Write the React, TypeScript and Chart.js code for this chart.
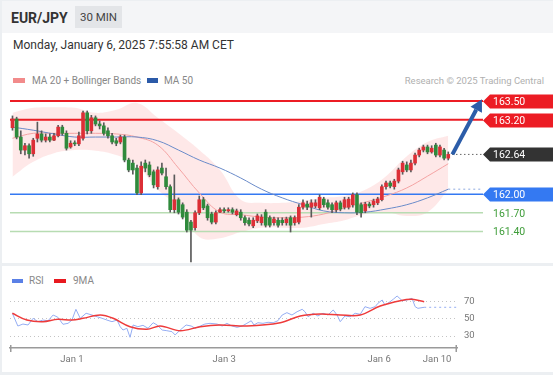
import React, { useEffect, useRef } from "react";
import { Chart, registerables } from "chart.js";
Chart.register(...registerables);

const FONT = "Roboto, 'Liberation Sans', Arial, sans-serif";

// ---------- price candles (one per bar index) ----------
const opens = [
  163.07, 163.21, 162.92, 162.71, 162.78, 162.65, 162.90, 162.97, 162.87, 162.92,
  162.87, 162.94, 163.08, 162.98, 162.76, 162.82, 162.81, 162.90, 163.31, 163.02,
  163.23, 163.13, 163.10, 163.02, 162.94, 162.86, 162.84, 162.92, 162.55, 162.50,
  162.42, 162.02, 162.50, 162.47, 162.36, 162.12, 162.42, 162.28, 162.12, 161.75,
  161.91, 161.83, 161.71, 161.55, 161.46, 161.70, 161.91, 161.81, 161.68, 161.55,
  161.71, 161.75, 161.73, 161.75, 161.67, 161.71, 161.62, 161.58, 161.49, 161.57,
  161.54, 161.71, 161.62, 161.54, 161.58, 161.58, 161.54, 161.62, 161.54, 161.55,
  161.79, 161.84, 161.79, 161.81, 161.78, 161.92, 161.86, 161.83, 161.75, 161.86,
  161.79, 161.79, 161.83, 161.99, 161.83, 161.73, 161.84, 161.83, 161.86, 161.91,
  162.12, 162.18, 162.12, 162.21, 162.36, 162.47, 162.39, 162.50, 162.63, 162.71,
  162.76, 162.68, 162.79, 162.63, 162.71, 162.58,
];
const closes = [
  163.21, 162.92, 162.71, 162.78, 162.65, 162.87, 162.97, 162.87, 162.92, 162.87,
  162.94, 163.08, 162.98, 162.74, 162.82, 162.81, 162.94, 163.31, 163.02, 163.23,
  163.13, 163.10, 162.98, 162.94, 162.84, 162.82, 162.92, 162.55, 162.39, 162.39,
  162.02, 162.45, 162.42, 162.31, 162.15, 162.39, 162.34, 162.12, 161.75, 161.91,
  161.71, 161.63, 161.42, 161.42, 161.70, 161.91, 161.78, 161.62, 161.55, 161.70,
  161.75, 161.73, 161.75, 161.71, 161.73, 161.62, 161.54, 161.52, 161.58, 161.65,
  161.63, 161.50, 161.50, 161.60, 161.50, 161.54, 161.60, 161.50, 161.62, 161.79,
  161.86, 161.79, 161.86, 161.86, 161.95, 161.83, 161.79, 161.75, 161.86, 161.76,
  161.91, 161.92, 161.99, 161.71, 161.70, 161.84, 161.81, 161.89, 161.92, 162.12,
  162.18, 162.13, 162.21, 162.39, 162.50, 162.39, 162.50, 162.63, 162.71, 162.76,
  162.68, 162.74, 162.63, 162.76, 162.58, 162.64,
];
const highs = [
  163.26, 163.24, 163.02, 162.82, 162.81, 162.90, 163.16, 163.02, 162.97, 162.97,
  162.98, 163.11, 163.11, 163.02, 162.86, 162.86, 163.00, 163.34, 163.34, 163.27,
  163.26, 163.18, 163.15, 163.07, 162.98, 162.90, 162.95, 162.95, 162.58, 162.55,
  162.47, 162.52, 162.55, 162.52, 162.39, 162.44, 162.50, 162.42, 162.15, 162.31,
  161.94, 161.86, 161.75, 161.58, 161.73, 161.97, 161.95, 161.84, 161.71, 161.73,
  161.78, 161.78, 161.78, 161.78, 161.76, 161.75, 161.65, 161.62, 161.62, 161.68,
  161.67, 161.75, 161.65, 161.63, 161.62, 161.62, 161.63, 161.65, 161.65, 161.83,
  161.91, 161.89, 161.91, 161.91, 161.99, 161.95, 161.91, 161.86, 161.89, 161.89,
  161.95, 161.95, 162.02, 162.02, 161.86, 161.87, 161.87, 161.92, 161.95, 162.15,
  162.21, 162.21, 162.24, 162.42, 162.53, 162.52, 162.55, 162.66, 162.74, 162.79,
  162.79, 162.78, 162.82, 162.79, 162.74, 162.68,
];
const lows = [
  163.03, 162.89, 162.65, 162.63, 162.58, 162.61, 162.84, 162.84, 162.84, 162.84,
  162.86, 162.92, 162.95, 162.71, 162.74, 162.78, 162.78, 162.87, 162.97, 162.98,
  163.10, 163.05, 162.95, 162.90, 162.81, 162.78, 162.81, 162.52, 162.36, 162.32,
  161.99, 161.99, 162.36, 162.28, 162.10, 162.08, 162.31, 162.08, 161.71, 161.70,
  161.68, 161.60, 161.39, 160.91, 161.42, 161.67, 161.75, 161.58, 161.52, 161.52,
  161.70, 161.70, 161.71, 161.68, 161.65, 161.58, 161.50, 161.49, 161.46, 161.54,
  161.50, 161.47, 161.47, 161.50, 161.47, 161.50, 161.50, 161.39, 161.50, 161.52,
  161.76, 161.75, 161.63, 161.78, 161.75, 161.79, 161.76, 161.70, 161.71, 161.73,
  161.76, 161.76, 161.79, 161.67, 161.63, 161.70, 161.78, 161.79, 161.83, 161.89,
  162.08, 162.10, 162.08, 162.18, 162.32, 162.36, 162.36, 162.47, 162.60, 162.68,
  162.65, 162.66, 162.60, 162.60, 162.55, 162.55,
];

// ---------- indicators (sampled at bar indices) ----------
const bandIdx = [0, 5, 10, 15, 20, 25, 30, 35, 40, 45, 50, 55, 60, 65, 70, 75, 80, 85, 90, 95, 100, 105];
const bbUpper = [163.31, 163.39, 163.40, 163.39, 163.31, 163.36, 163.47, 163.23, 162.98, 162.71, 162.39, 161.91, 161.86, 161.86, 161.89, 161.94, 161.97, 162.07, 162.29, 162.61, 162.84, 162.94];
const bbLower = [162.28, 162.52, 162.66, 162.71, 162.70, 162.63, 162.47, 162.07, 161.79, 161.31, 161.29, 161.39, 161.46, 161.46, 161.46, 161.52, 161.58, 161.68, 161.71, 161.65, 161.71, 162.07];
const ma20 = [162.90, 162.98, 162.98, 162.98, 162.98, 162.97, 162.92, 162.79, 162.42, 162.02, 161.71, 161.67, 161.63, 161.62, 161.63, 161.68, 161.78, 161.87, 161.97, 162.10, 162.29, 162.49];
const ma50 = [163.08, 163.03, 162.97, 162.92, 162.92, 162.92, 162.92, 162.86, 162.71, 162.55, 162.42, 162.26, 162.08, 161.94, 161.83, 161.73, 161.70, 161.71, 161.76, 161.83, 161.94, 162.08];

// ---------- key levels ----------
const levelValues = [163.5, 163.2, 162.0, 161.7, 161.4];
const levelKinds = ["res", "res", "pivot", "sup", "sup"];

// ---------- forecast arrow (bar index, price) ----------
const arrowStart = [106, 162.64];
const arrowEnd = [113.1, 163.53];

// ---------- RSI panel ----------
const rsiIdx = [0, 1.4, 2.7, 4.0, 5.3, 6.5, 7.8, 9.1, 10.4, 11.6, 12.9, 14.2, 15.2, 16.2, 17.3, 18.8, 20.3, 21.6, 22.9, 24.1, 25.4, 26.7, 27.5, 28.2, 29.2, 30.0, 30.8, 32.0, 33.3, 34.6, 35.9, 36.9, 38.2, 39.4, 40.7, 41.5, 42.8, 44.3, 45.6, 46.6, 47.9, 49.1, 50.4, 52.2, 53.5, 54.7, 56.0, 57.3, 58.6, 59.8, 60.9, 61.6, 62.6, 63.9, 65.2, 66.5, 67.7, 68.8, 70.0, 71.3, 72.6, 73.9, 74.6, 75.4, 76.7, 77.9, 79.2, 80.5, 81.8, 82.8, 83.6, 84.8, 86.1, 87.4, 88.7, 89.9, 91.2, 92.5, 93.2, 94.3, 95.0, 96.3, 97.1, 98.1, 99.4, 100.6, 101.9, 102.7, 103.4, 105];
const rsiVals = [56.2, 41.5, 43.8, 42.7, 50.4, 46.5, 48.4, 47.6, 54.2, 51.6, 43.5, 44.6, 48.4, 60.8, 50.4, 56.2, 54.2, 52.2, 50.4, 48.4, 46.5, 48.4, 40.7, 36.9, 38.9, 28.5, 42.7, 40.7, 42.3, 38.9, 45.3, 42.7, 36.9, 36.1, 35.0, 31.2, 36.9, 42.7, 41.5, 38.9, 41.5, 43.8, 44.6, 43.8, 41.5, 44.6, 41.5, 40.0, 41.5, 44.6, 47.6, 42.7, 45.3, 44.6, 45.8, 45.3, 47.6, 54.2, 56.9, 54.2, 58.0, 60.8, 58.0, 52.2, 56.2, 53.1, 56.2, 54.2, 60.0, 54.2, 46.5, 53.1, 52.2, 56.2, 55.0, 63.8, 61.9, 63.8, 67.7, 71.5, 65.7, 69.5, 72.3, 76.1, 70.7, 71.5, 73.5, 63.8, 61.9, 63.1];
const maIdx = [0, 3.7, 7.8, 11.6, 15.2, 18.0, 22.4, 25.7, 30.0, 34.3, 37.7, 42.8, 47.9, 52.9, 59.8, 68.3, 73.4, 78.5, 83.6, 88.7, 93.8, 98.9, 101.9, 105];
const maVals = [56.2, 48.4, 46.5, 49.3, 48.4, 50.4, 54.2, 50.4, 40.7, 37.7, 41.5, 36.1, 40.7, 42.7, 41.5, 45.3, 53.1, 55.4, 54.2, 54.2, 64.6, 70.7, 72.3, 69.5];
const rsiTicks = [30, 50, 70];

// ---------- time axis ----------
const xTickLabels = ["Jan 1", "Jan 3", "Jan 6", "Jan 10"];
const xTickIdx = [15.2, 54, 93.5, 108.3];

// ---------- view ranges ----------
const X_MIN = -0.6;
const X_MAX = 113.37;
const PRICE_MIN = 160.891;
const PRICE_MAX = 163.742;
const RSI_MIN = 16.17;
const RSI_MAX = 83.03;

const RED = "#ec1c24";
const GREEN_TXT = "#3f9d3a";
const BLUE = "#3479f2";

const pts = (xs: number[], ys: number[]) => xs.map((x, k) => ({ x, y: ys[k] }));

function MainChart() {
  const ref = useRef<HTMLCanvasElement | null>(null);
  useEffect(() => {
    if (!ref.current) return;
    const idx = closes.map((_, i) => i);
    const last = closes.length - 1;
    const bodyColors = idx.map((i) => (closes[i] >= opens[i] ? "#dc2f36" : "#2f8a3c"));
    const levelColor = (k: string) => (k === "res" ? RED : k === "pivot" ? BLUE : "#b7dcb2");
    const levelWidth = (k: string) => (k === "res" ? 2 : 1.5);

    const tagPlugin = {
      id: "tags",
      afterDatasetsDraw(chart: any) {
        const { ctx, chartArea, scales } = chart;
        const xs = scales.x, ys = scales.y;
        const R = chartArea.right;
        ctx.save();
        // arrow
        const x1 = xs.getPixelForValue(arrowStart[0]);
        const y1 = ys.getPixelForValue(arrowStart[1]);
        const x2 = xs.getPixelForValue(arrowEnd[0]);
        const y2 = ys.getPixelForValue(arrowEnd[1]);
        const ang = Math.atan2(y2 - y1, x2 - x1);
        const head = 12;
        const bx = x2 - head * Math.cos(ang);
        const by = y2 - head * Math.sin(ang);
        ctx.strokeStyle = "#2c5da9";
        ctx.fillStyle = "#2c5da9";
        ctx.lineWidth = 4;
        ctx.beginPath();
        ctx.moveTo(x1, y1);
        ctx.lineTo(bx, by);
        ctx.stroke();
        ctx.beginPath();
        ctx.moveTo(x2, y2);
        ctx.lineTo(bx + 6.5 * Math.sin(ang), by - 6.5 * Math.cos(ang));
        ctx.lineTo(bx - 6.5 * Math.sin(ang), by + 6.5 * Math.cos(ang));
        ctx.closePath();
        ctx.fill();
        // tags
        const tags: { v: number; bg: string | null; fg: string }[] = levelValues.map((v, k) => ({
          v,
          bg: levelKinds[k] === "res" ? RED : levelKinds[k] === "pivot" ? BLUE : null,
          fg: levelKinds[k] === "sup" ? GREEN_TXT : "#ffffff",
        }));
        tags.push({ v: closes[last], bg: "#333333", fg: "#ffffff" });
        ctx.font = `10.5px ${FONT}`;
        ctx.textBaseline = "middle";
        ctx.textAlign = "left";
        tags.forEach((t) => {
          const yc = Math.round(ys.getPixelForValue(t.v)) + 0.5;
          if (t.bg) {
            ctx.fillStyle = t.bg;
            ctx.beginPath();
            ctx.moveTo(R, yc);
            ctx.lineTo(R + 7, yc - 7);
            ctx.lineTo(R + 70, yc - 7);
            ctx.lineTo(R + 70, yc + 7);
            ctx.lineTo(R + 7, yc + 7);
            ctx.closePath();
            ctx.fill();
          }
          ctx.fillStyle = t.fg;
          ctx.fillText(t.v.toFixed(2), R + 10, yc + 0.5);
        });
        ctx.restore();
      },
    };

    const levelSets = levelValues.map((v, k) => ({
      type: "line",
      label: "level " + v,
      data: [{ x: X_MIN, y: v }, { x: X_MAX, y: v }],
      borderColor: levelColor(levelKinds[k]),
      borderWidth: levelWidth(levelKinds[k]),
      pointRadius: 0,
      order: 6,
    }));

    const chart = new Chart(ref.current, {
      type: "bar",
      data: {
        datasets: [
          {
            type: "line",
            label: "BB upper",
            data: pts(bandIdx, bbUpper),
            borderWidth: 0,
            borderColor: "rgba(0,0,0,0)",
            pointRadius: 0,
            tension: 0.4,
            fill: "+1",
            backgroundColor: "rgba(250,150,150,0.22)",
            order: 9,
          },
          {
            type: "line",
            label: "BB lower",
            data: pts(bandIdx, bbLower),
            borderWidth: 0,
            borderColor: "rgba(0,0,0,0)",
            pointRadius: 0,
            tension: 0.4,
            fill: false,
            order: 9,
          },
          ...levelSets,
          {
            type: "line",
            label: "MA 50",
            data: pts(bandIdx, ma50),
            borderColor: "#6a8bc9",
            borderWidth: 1,
            pointRadius: 0,
            tension: 0.4,
            order: 5,
          },
          {
            type: "line",
            label: "MA 20",
            data: pts(bandIdx, ma20),
            borderColor: "#f4a3a3",
            borderWidth: 1,
            pointRadius: 0,
            tension: 0.4,
            order: 5,
          },
          {
            type: "line",
            label: "MA 50 last",
            data: [{ x: bandIdx[bandIdx.length - 1], y: ma50[ma50.length - 1] }, { x: X_MAX, y: ma50[ma50.length - 1] }],
            borderColor: "#8eaae0",
            borderWidth: 1,
            borderDash: [2, 3],
            pointRadius: 0,
            order: 5,
          },
          {
            type: "line",
            label: "last price",
            data: [{ x: last + 0.9, y: closes[last] }, { x: X_MAX, y: closes[last] }],
            borderColor: "#666",
            borderWidth: 1,
            borderDash: [1.5, 2.5],
            pointRadius: 0,
            order: 5,
          },
          {
            type: "bar",
            label: "wick",
            data: idx.map((i) => ({ x: i, y: [lows[i], highs[i]] })),
            backgroundColor: "#5a5a5a",
            barThickness: 1,
            grouped: false,
            order: 2,
          },
          {
            type: "bar",
            label: "body",
            data: idx.map((i) => ({ x: i, y: [opens[i], closes[i]] })),
            backgroundColor: bodyColors,
            barThickness: 3,
            minBarLength: 1,
            grouped: false,
            order: 1,
          },
        ] as any,
      },
      options: {
        responsive: false,
        animation: false,
        events: [],
        layout: { padding: { left: 10, right: 70, top: 0, bottom: 0 } },
        plugins: { legend: { display: false }, tooltip: { enabled: false } },
        scales: {
          x: { type: "linear", min: X_MIN, max: X_MAX, display: false, offset: false },
          y: { type: "linear", min: PRICE_MIN, max: PRICE_MAX, display: false },
        },
      } as any,
      plugins: [tagPlugin],
    });
    return () => chart.destroy();
  }, []);
  return (
    <canvas
      ref={ref}
      width={553}
      height={177}
      style={{ position: "absolute", left: 0, top: 86, width: 553, height: 177 }}
    />
  );
}

function RsiChart() {
  const ref = useRef<HTMLCanvasElement | null>(null);
  useEffect(() => {
    if (!ref.current) return;
    const lastK = rsiIdx.length - 1;
    const capsPlugin = {
      id: "caps",
      afterDraw(chart: any) {
        const { ctx, chartArea } = chart;
        ctx.save();
        ctx.strokeStyle = "#9a9a9a";
        ctx.lineWidth = 1.5;
        [chartArea.left + 0.75, chartArea.right - 0.75].forEach((px: number) => {
          ctx.beginPath();
          ctx.moveTo(px, chartArea.bottom - 3);
          ctx.lineTo(px, chartArea.bottom + 4);
          ctx.stroke();
        });
        ctx.restore();
      },
    };
    const chart = new Chart(ref.current, {
      type: "line",
      data: {
        datasets: [
          {
            label: "9MA",
            data: pts(maIdx, maVals),
            borderColor: "#ee3b3b",
            borderWidth: 1.5,
            pointRadius: 0,
            tension: 0.35,
            order: 1,
          },
          {
            label: "RSI",
            data: pts(rsiIdx, rsiVals),
            borderColor: "#94adf3",
            borderWidth: 1,
            pointRadius: 0,
            tension: 0,
            order: 2,
          },
          {
            label: "RSI last",
            data: [{ x: rsiIdx[lastK], y: rsiVals[lastK] }, { x: X_MAX, y: rsiVals[lastK] }],
            borderColor: "#94adf3",
            borderWidth: 1,
            borderDash: [2, 3],
            pointRadius: 0,
            order: 3,
          },
        ],
      },
      options: {
        responsive: false,
        animation: false,
        events: [],
        layout: { padding: { left: 10, right: 0, top: 24, bottom: 0 } },
        plugins: { legend: { display: false }, tooltip: { enabled: false } },
        scales: {
          x: {
            type: "linear",
            min: X_MIN,
            max: X_MAX,
            offset: false,
            grid: { display: false, drawTicks: false },
            border: { display: true, color: "#9a9a9a", width: 1.5 },
            afterBuildTicks: (s: any) => {
              s.ticks = xTickIdx.map((v) => ({ value: v }));
            },
            afterFit: (s: any) => {
              s.height = 24;
            },
            ticks: {
              autoSkip: false,
              maxRotation: 0,
              padding: 6,
              color: "#777",
              font: { family: FONT, size: 9.5 },
              callback: (_v: any, i: number) => xTickLabels[i],
            },
          },
          y: {
            type: "linear",
            position: "right",
            min: RSI_MIN,
            max: RSI_MAX,
            afterBuildTicks: (s: any) => {
              s.ticks = rsiTicks.map((v) => ({ value: v }));
            },
            afterFit: (s: any) => {
              s.width = 96;
            },
            grid: { color: "#c4c4c4", drawTicks: false, lineWidth: 1 },
            border: { display: false, dash: [1, 3] },
            ticks: {
              padding: 7,
              color: "#777",
              font: { family: FONT, size: 9.5 },
              callback: (v: any) => String(v),
            },
          },
        },
      } as any,
      plugins: [capsPlugin],
    });
    return () => chart.destroy();
  }, []);
  return (
    <canvas
      ref={ref}
      width={553}
      height={106}
      style={{ position: "absolute", left: 0, top: 266, width: 553, height: 106 }}
    />
  );
}

const abs = (s: React.CSSProperties): React.CSSProperties => ({ position: "absolute", ...s });

export default function App() {
  return (
    <div
      style={{
        position: "fixed",
        left: 0,
        top: 0,
        width: 553,
        height: 375,
        background: "#eceff2",
        fontFamily: FONT,
        overflow: "hidden",
      }}
    >
      <div style={abs({ left: 2, top: 1, width: 551, height: 262, background: "#ffffff" })} />
      <div style={abs({ left: 2, top: 1, width: 551, height: 32, background: "#f4f5f7" })} />
      <div style={abs({ left: 11, top: 11, fontSize: 14, lineHeight: "14px", fontWeight: 700, color: "#333" })}>EUR/JPY</div>
      <div
        style={abs({
          left: 75,
          top: 6,
          width: 47,
          height: 22,
          background: "#e3e5e8",
          color: "#444",
          fontSize: 11.5,
          lineHeight: "22px",
          textAlign: "center",
        })}
      >
        30 MIN
      </div>
      <div style={abs({ left: 13, top: 38, fontSize: 12, lineHeight: "14px", color: "#333" })}>
        Monday, January 6, 2025 7:55:58 AM CET
      </div>

      <div style={abs({ left: 13, top: 78, width: 12, height: 5, background: "#f28b8b" })} />
      <div style={abs({ left: 32, top: 75, fontSize: 10, lineHeight: "12px", color: "#888" })}>MA 20 + Bollinger Bands</div>
      <div style={abs({ left: 147, top: 78, width: 11, height: 5, background: "#2b5aa8" })} />
      <div style={abs({ left: 164, top: 75, fontSize: 10, lineHeight: "12px", color: "#888" })}>MA 50</div>
      <div style={abs({ right: 9, top: 75, fontSize: 9.5, lineHeight: "12px", color: "#b0b0b0", whiteSpace: "nowrap" })}>
        Research © 2025 Trading Central
      </div>

      <div style={abs({ left: 2, top: 266, width: 551, height: 106, background: "#ffffff" })} />
      <div style={abs({ left: 12, top: 279, width: 11, height: 4, background: "#5a80e6" })} />
      <div style={abs({ left: 29, top: 275, fontSize: 10, lineHeight: "12px", color: "#888" })}>RSI</div>
      <div style={abs({ left: 54, top: 279, width: 12, height: 4, background: "#e8191f" })} />
      <div style={abs({ left: 73, top: 275, fontSize: 10, lineHeight: "12px", color: "#888" })}>9MA</div>

      <MainChart />
      <RsiChart />
    </div>
  );
}
